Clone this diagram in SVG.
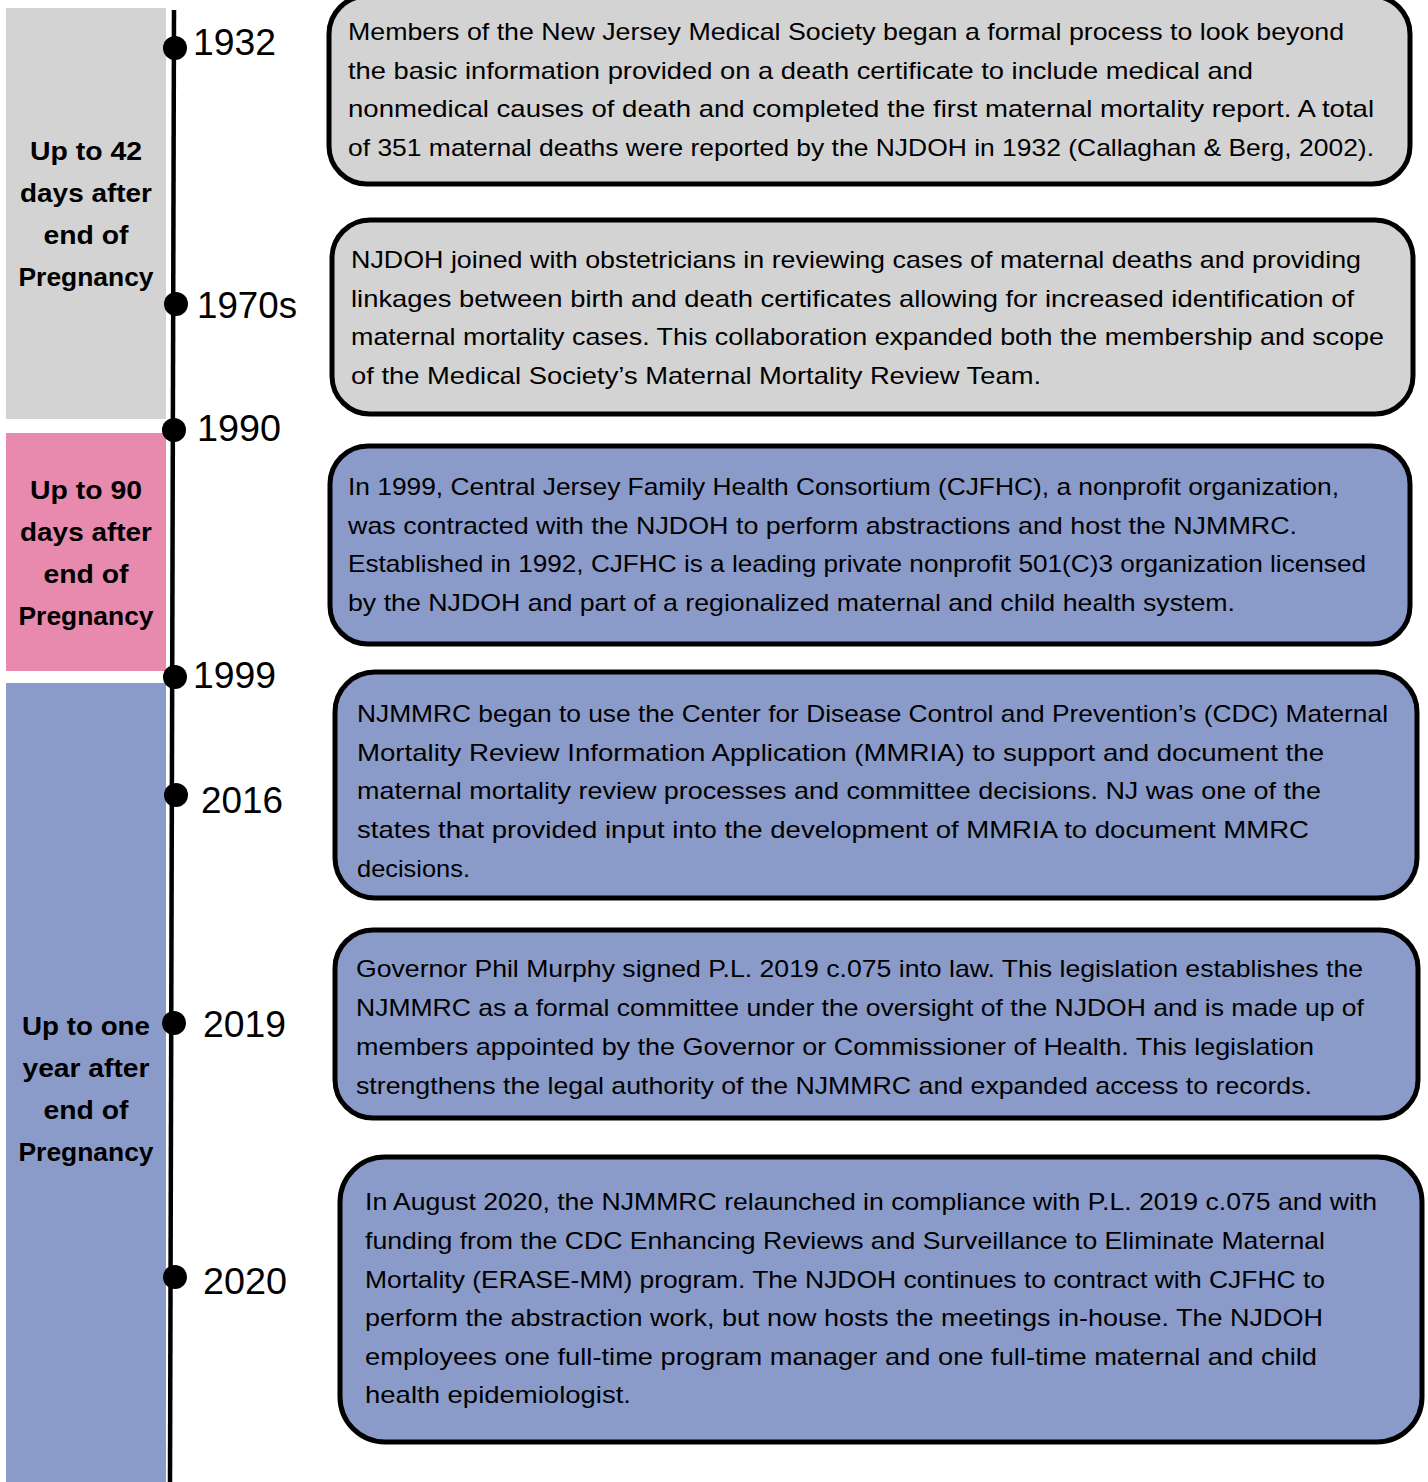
<svg xmlns="http://www.w3.org/2000/svg" width="1428" height="1482" viewBox="0 0 1428 1482">
<style>
.box{stroke:#000;stroke-width:5}
.gray{fill:#d3d3d3}
.blue{fill:#8a9bca}
.pink{fill:#e88aae}
.t{font-family:"Liberation Sans",Arial,sans-serif;font-size:24px;fill:#000}
.yr{font-family:"Liberation Sans",Arial,sans-serif;font-size:37px;fill:#000}
.lab{font-family:"Liberation Sans",Arial,sans-serif;font-size:26px;font-weight:bold;fill:#000;text-anchor:middle}
.dot{fill:#000}
</style>
<rect width="1428" height="1482" fill="#fff"/>

<g id="band-42days">
<rect class="gray" x="6" y="8" width="160" height="411"/>
<text class="lab" x="86" y="160" textLength="112" lengthAdjust="spacingAndGlyphs">Up to 42</text>
<text class="lab" x="86" y="202" textLength="132" lengthAdjust="spacingAndGlyphs">days after</text>
<text class="lab" x="86" y="244" textLength="85" lengthAdjust="spacingAndGlyphs">end of</text>
<text class="lab" x="86" y="286" textLength="135" lengthAdjust="spacingAndGlyphs">Pregnancy</text>
</g>
<g id="band-90days">
<rect class="pink" x="6" y="433" width="160" height="238"/>
<text class="lab" x="86" y="499" textLength="112" lengthAdjust="spacingAndGlyphs">Up to 90</text>
<text class="lab" x="86" y="541" textLength="132" lengthAdjust="spacingAndGlyphs">days after</text>
<text class="lab" x="86" y="583" textLength="85" lengthAdjust="spacingAndGlyphs">end of</text>
<text class="lab" x="86" y="625" textLength="135" lengthAdjust="spacingAndGlyphs">Pregnancy</text>
</g>
<g id="band-oneyear">
<rect class="blue" x="6" y="683" width="160" height="799"/>
<text class="lab" x="86" y="1035" textLength="128" lengthAdjust="spacingAndGlyphs">Up to one</text>
<text class="lab" x="86" y="1077" textLength="127" lengthAdjust="spacingAndGlyphs">year after</text>
<text class="lab" x="86" y="1119" textLength="85" lengthAdjust="spacingAndGlyphs">end of</text>
<text class="lab" x="86" y="1161" textLength="135" lengthAdjust="spacingAndGlyphs">Pregnancy</text>
</g>

<g id="connectors">
<line x1="174" y1="10" x2="170" y2="1482" stroke="#000" stroke-width="4.5"/>
</g>

<g id="y1932"><circle class="dot" cx="175" cy="48" r="12"/><text class="yr" x="193" y="55" textLength="83" lengthAdjust="spacingAndGlyphs">1932</text></g>
<g id="y1970s"><circle class="dot" cx="176" cy="304" r="12"/><text class="yr" x="197" y="318" textLength="100" lengthAdjust="spacingAndGlyphs">1970s</text></g>
<g id="y1990"><circle class="dot" cx="174" cy="430" r="12"/><text class="yr" x="197" y="441" textLength="84" lengthAdjust="spacingAndGlyphs">1990</text></g>
<g id="y1999"><circle class="dot" cx="175" cy="677" r="12"/><text class="yr" x="193" y="688" textLength="83" lengthAdjust="spacingAndGlyphs">1999</text></g>
<g id="y2016"><circle class="dot" cx="176" cy="795" r="12"/><text class="yr" x="201" y="813" textLength="82" lengthAdjust="spacingAndGlyphs">2016</text></g>
<g id="y2019"><circle class="dot" cx="174" cy="1023" r="12"/><text class="yr" x="203" y="1037" textLength="83" lengthAdjust="spacingAndGlyphs">2019</text></g>
<g id="y2020"><circle class="dot" cx="175" cy="1277" r="12"/><text class="yr" x="203" y="1294" textLength="84" lengthAdjust="spacingAndGlyphs">2020</text></g>

<g id="box1932">
<rect class="box gray" x="329" y="-4" width="1081" height="188" rx="38"/>
<text class="t" x="348" y="40" textLength="996" lengthAdjust="spacingAndGlyphs">Members of the New Jersey Medical Society began a formal process to look beyond</text>
<text class="t" x="348" y="78.5" textLength="905" lengthAdjust="spacingAndGlyphs">the basic information provided on a death certificate to include medical and</text>
<text class="t" x="348" y="117" textLength="1026" lengthAdjust="spacingAndGlyphs">nonmedical causes of death and completed the first maternal mortality report. A total</text>
<text class="t" x="348" y="155.5" textLength="1026" lengthAdjust="spacingAndGlyphs">of 351 maternal deaths were reported by the NJDOH in 1932 (Callaghan &amp; Berg, 2002).</text>
</g>

<g id="box1970s">
<rect class="box gray" x="332" y="220" width="1081" height="194" rx="38"/>
<text class="t" x="351" y="268" textLength="1010" lengthAdjust="spacingAndGlyphs">NJDOH joined with obstetricians in reviewing cases of maternal deaths and providing</text>
<text class="t" x="351" y="306.5" textLength="1003" lengthAdjust="spacingAndGlyphs">linkages between birth and death certificates allowing for increased identification of</text>
<text class="t" x="351" y="345" textLength="1033" lengthAdjust="spacingAndGlyphs">maternal mortality cases. This collaboration expanded both the membership and scope</text>
<text class="t" x="351" y="383.5" textLength="690" lengthAdjust="spacingAndGlyphs">of the Medical Society’s Maternal Mortality Review Team.</text>
</g>

<g id="box1999">
<rect class="box blue" x="330" y="446" width="1080" height="198" rx="38"/>
<text class="t" x="348" y="495" textLength="991" lengthAdjust="spacingAndGlyphs">In 1999, Central Jersey Family Health Consortium (CJFHC), a nonprofit organization,</text>
<text class="t" x="348" y="533.5" textLength="949" lengthAdjust="spacingAndGlyphs">was contracted with the NJDOH to perform abstractions and host the NJMMRC.</text>
<text class="t" x="348" y="572" textLength="1018" lengthAdjust="spacingAndGlyphs">Established in 1992, CJFHC is a leading private nonprofit 501(C)3 organization licensed</text>
<text class="t" x="348" y="610.5" textLength="887" lengthAdjust="spacingAndGlyphs">by the NJDOH and part of a regionalized maternal and child health system.</text>
</g>

<g id="box2016">
<rect class="box blue" x="335" y="672" width="1082" height="226" rx="40"/>
<text class="t" x="357" y="722" textLength="1031" lengthAdjust="spacingAndGlyphs">NJMMRC began to use the Center for Disease Control and Prevention’s (CDC) Maternal</text>
<text class="t" x="357" y="760.5" textLength="967" lengthAdjust="spacingAndGlyphs">Mortality Review Information Application (MMRIA) to support and document the</text>
<text class="t" x="357" y="799" textLength="964" lengthAdjust="spacingAndGlyphs">maternal mortality review processes and committee decisions. NJ was one of the</text>
<text class="t" x="357" y="838" textLength="952" lengthAdjust="spacingAndGlyphs">states that provided input into the development of MMRIA to document MMRC</text>
<text class="t" x="357" y="876.5" textLength="113" lengthAdjust="spacingAndGlyphs">decisions.</text>
</g>

<g id="box2019">
<rect class="box blue" x="335" y="930" width="1083" height="188" rx="38"/>
<text class="t" x="356" y="977" textLength="1007" lengthAdjust="spacingAndGlyphs">Governor Phil Murphy signed P.L. 2019 c.075 into law. This legislation establishes the</text>
<text class="t" x="356" y="1016" textLength="1008" lengthAdjust="spacingAndGlyphs">NJMMRC as a formal committee under the oversight of the NJDOH and is made up of</text>
<text class="t" x="356" y="1055" textLength="958" lengthAdjust="spacingAndGlyphs">members appointed by the Governor or Commissioner of Health. This legislation</text>
<text class="t" x="356" y="1094" textLength="956" lengthAdjust="spacingAndGlyphs">strengthens the legal authority of the NJMMRC and expanded access to records.</text>
</g>

<g id="box2020">
<rect class="box blue" x="340" y="1157" width="1082" height="285" rx="45"/>
<text class="t" x="365" y="1210" textLength="1012" lengthAdjust="spacingAndGlyphs">In August 2020, the NJMMRC relaunched in compliance with P.L. 2019 c.075 and with</text>
<text class="t" x="365" y="1249" textLength="960" lengthAdjust="spacingAndGlyphs">funding from the CDC Enhancing Reviews and Surveillance to Eliminate Maternal</text>
<text class="t" x="365" y="1287.5" textLength="960" lengthAdjust="spacingAndGlyphs">Mortality (ERASE-MM) program. The NJDOH continues to contract with CJFHC to</text>
<text class="t" x="365" y="1326" textLength="958" lengthAdjust="spacingAndGlyphs">perform the abstraction work, but now hosts the meetings in-house. The NJDOH</text>
<text class="t" x="365" y="1364.5" textLength="952" lengthAdjust="spacingAndGlyphs">employees one full-time program manager and one full-time maternal and child</text>
<text class="t" x="365" y="1403" textLength="266" lengthAdjust="spacingAndGlyphs">health epidemiologist.</text>
</g>
</svg>
